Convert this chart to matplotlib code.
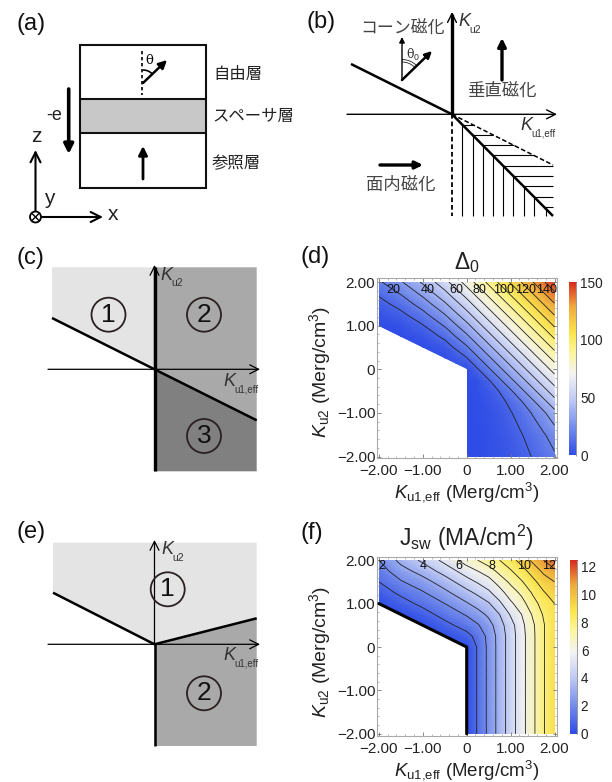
import numpy as np
import matplotlib
matplotlib.use("Agg")
import matplotlib.pyplot as plt
from matplotlib.colors import LinearSegmentedColormap
from matplotlib.patches import Polygon, Circle, Arc, Rectangle

plt.rcParams["font.family"] = ["Liberation Sans", "Noto Sans CJK JP", "DejaVu Sans"]
plt.rcParams["mathtext.fontset"] = "custom"
plt.rcParams["mathtext.rm"] = "Liberation Sans"
plt.rcParams["mathtext.it"] = "Liberation Sans:italic"
plt.rcParams["mathtext.bf"] = "Liberation Sans:bold"

W, H = 612, 782

# heatmap grid (Merg/cm3), finer where the contours bend
GRID_X = [-2, -1.5, -1, -0.5, 0, 0.25, 0.5, 0.75, 1, 1.25, 1.5, 1.75, 2]
GRID_Y = [-2, -1.5, -1, -0.75, -0.5, -0.25, 0, 0.25, 0.5, 0.75, 1, 1.25, 1.5, 1.75, 2]

# Delta_0, rows go from y=-2 to y=2
DELTA = [
    [0, 0, 0, 0, 0, 0.3, 1.2, 2.6, 4.6, 7.2, 10.4, 14.2, 18.5],
    [0, 0, 0, 0, 0, 0.4, 1.5, 3.5, 6.2, 9.6, 13.9, 18.9, 24.7],
    [0, 0, 0, 0, 0, 0.6, 2.3, 5.2, 9.3, 14.5, 20.8, 28.3, 37],
    [0, 0, 0, 0, 0, 0.8, 3.1, 6.9, 12.3, 19.3, 27.8, 37, 46.3],
    [0, 0, 0, 0, 0, 1.2, 4.6, 10.4, 18.5, 27.8, 37, 46.3, 55.5],
    [0, 0, 0, 0, 0, 2.3, 9.3, 18.5, 27.8, 37, 46.3, 55.5, 64.8],
    [0, 0, 0, 0, 0, 9.3, 18.5, 27.8, 37, 46.3, 55.5, 64.8, 74],
    [0, 0, 0, 0, 9.3, 18.5, 27.8, 37, 46.3, 55.5, 64.8, 74, 83.3],
    [0, 0, 0, 4.6, 18.5, 27.8, 37, 46.3, 55.5, 64.8, 74, 83.3, 92.5],
    [0, 0, 3.1, 12.3, 27.8, 37, 46.3, 55.5, 64.8, 74, 83.3, 92.5, 101.8],
    [0, 2.3, 9.3, 20.8, 37, 46.3, 55.5, 64.8, 74, 83.3, 92.5, 101.8, 111],
    [1.9, 7.4, 16.7, 29.6, 46.3, 55.5, 64.8, 74, 83.3, 92.5, 101.8, 111, 120.3],
    [6.2, 13.9, 24.7, 38.5, 55.5, 64.8, 74, 83.3, 92.5, 101.8, 111, 120.3, 129.5],
    [11.9, 21.1, 33, 47.6, 64.8, 74, 83.3, 92.5, 101.8, 111, 120.3, 129.5, 138.8],
    [18.5, 28.9, 41.6, 56.7, 74, 83.3, 92.5, 101.8, 111, 120.3, 129.5, 138.8, 148],
]
DELTA_LEVELS = [10, 20, 30, 40, 50, 60, 70, 80, 90, 100, 110, 120, 130, 140]
DELTA_TICKS = [0, 50, 100, 150]
DELTA_LABELS = ["20", "40", "60", "80", "100", "120", "140"]
DELTA_LABEL_X = [-1.67, -0.9, -0.23, 0.3, 0.83, 1.34, 1.83]

# J_sw, same grid
JSW = [
    [0, 0, 0, 0, 0, 1.1, 2.25, 3.4, 4.5, 5.6, 6.75, 7.9, 9],
    [0, 0, 0, 0, 0, 1.1, 2.25, 3.4, 4.5, 5.6, 6.75, 7.9, 9],
    [0, 0, 0, 0, 0, 1.1, 2.25, 3.4, 4.5, 5.6, 6.75, 7.9, 9],
    [0, 0, 0, 0, 0, 1.1, 2.25, 3.4, 4.5, 5.6, 6.75, 7.9, 9],
    [0, 0, 0, 0, 0, 1.1, 2.25, 3.4, 4.5, 5.6, 6.75, 7.9, 9],
    [0, 0, 0, 0, 0, 1.1, 2.25, 3.4, 4.5, 5.6, 6.75, 7.9, 9],
    [0, 0, 0, 0, 0, 1.1, 2.25, 3.4, 4.5, 5.6, 6.75, 7.9, 9],
    [0, 0, 0, 0, 0.7, 1.3, 2.3, 3.4, 4.5, 5.6, 6.75, 7.9, 9],
    [0, 0, 0, 0.7, 1.4, 1.9, 2.6, 3.6, 4.6, 5.7, 6.8, 7.9, 8.95],
    [0, 0, 0.6, 1.35, 2.1, 2.6, 3.2, 4.0, 5.1, 6.0, 7.1, 8.1, 8.97],
    [0, 0.6, 1.25, 2.0, 2.9, 3.4, 3.9, 4.8, 5.8, 6.6, 7.6, 8.4, 9.0],
    [0.5, 1.2, 1.9, 2.75, 3.7, 4.2, 4.8, 5.6, 6.5, 7.2, 8.1, 8.9, 9.5],
    [1.0, 1.9, 2.6, 3.5, 4.6, 5.1, 5.6, 6.4, 7.2, 7.9, 8.7, 9.5, 10.0],
    [1.5, 2.6, 3.4, 4.4, 5.5, 6.0, 6.5, 7.3, 7.9, 8.6, 9.4, 10.2, 10.8],
    [2.0, 3.3, 4.2, 5.3, 6.5, 7.0, 7.6, 8.0, 8.6, 9.4, 10.2, 11.0, 11.8],
]
JSW_LEVELS = [1, 2, 3, 4, 5, 6, 7, 8, 9, 10, 11]
JSW_TICKS = [0, 2, 4, 6, 8, 10, 12]
JSW_LABELS = ["2", "4", "6", "8", "10", "12"]
JSW_LABEL_X = [-1.94, -1.0, -0.17, 0.58, 1.3, 1.87]

# edge of the valid region
EDGE_X = [-2, 0, 0]
EDGE_Y = [1, 0, -2]

AXIS_TICKS = [-2, -1, 0, 1, 2]
AXIS_TICK_LABELS = ["\u22122.00", "\u22121.00", "0", "1.00", "2.00"]

CMAP_COLORS = ["#2f4de6", "#6f88ea", "#c3cdf4", "#f3f3f3", "#fdf49a", "#fbe84f", "#eeaa3c", "#d8291f"]
CMAP_STOPS = [0.0, 0.15, 0.33, 0.47, 0.6, 0.7, 0.86, 1.0]

# schematic panels, figure pixels
A_BOX = [80, 44.7, 126, 143]
A_SPACER = [99.3, 133.3]
A_LAYERS = ["自由層", "スペーサ層", "参照層"]
A_LAYER_X = [213, 212, 212]
A_LAYER_Y = [75, 117, 163]

C_REGIONS = [
    ([(52, 267.3), (154.5, 267.3), (154.5, 369.3), (52, 318)], "#e4e4e4"),
    ([(154.5, 267.3), (256.7, 267.3), (256.7, 420.3), (154.5, 369.3)], "#a9a9a9"),
    ([(154.5, 369.3), (256.7, 420.3), (256.7, 471.3), (154.5, 471.3)], "#808080"),
]
E_REGIONS = [
    ([(53, 542.7), (256.7, 542.7), (256.7, 618.3), (154.5, 644.3), (53, 592.7)], "#e4e4e4"),
    ([(154.5, 644.3), (256.7, 618.3), (256.7, 746), (154.5, 746)], "#a9a9a9"),
]

B_VHATCH = [462.3, 472.7, 482.7, 492.7, 503, 513.3, 524, 534.3, 545.7]
B_HHATCH = [124.7, 135, 145.3, 155.3, 165.7, 176, 186.3, 196.7, 207.3]

PANEL_LABELS = ["(a)", "(b)", "(c)", "(d)", "(e)", "(f)"]
PANEL_X = [16, 306, 16, 300, 16, 300]
PANEL_Y = [24, 22, 258, 257, 532, 533]

cmap = LinearSegmentedColormap.from_list("temp", list(zip(CMAP_STOPS, CMAP_COLORS)))

fig = plt.figure(figsize=(W / 100, H / 100), dpi=100)
bg = fig.add_axes([0, 0, 1, 1])
bg.set_xlim(0, W)
bg.set_ylim(H, 0)
bg.axis("off")


def line(x, y, lw=1.0, color="black", ls="-", z=3):
    bg.plot(x, y, color=color, lw=lw, ls=ls, zorder=z, solid_capstyle="butt")


def arrow(x0, y0, x1, y1, lw=1.5, style="-|>", scale=10, color="black"):
    bg.annotate("", xy=(x1, y1), xytext=(x0, y0),
                arrowprops=dict(arrowstyle=style, lw=lw, color=color, mutation_scale=scale,
                                shrinkA=0, shrinkB=0), zorder=5)


def k_label(x, y, sub, sub_size):
    # K and its subscript drawn apart, the subscript is much smaller than the K
    bg.text(x, y, "K", fontsize=13, style="italic", color="#333333", va="center", zorder=6)
    bg.text(x + 11, y + 8, sub, fontsize=sub_size, color="#333333", va="center", zorder=6)


def num_circle(x, y, s):
    bg.add_patch(Circle((x, y), 17, fc="none", ec="#2a2020", lw=1.3, zorder=6))
    bg.text(x, y, s, fontsize=19, ha="center", va="center", color="#111111", zorder=6)


for s, x, y in zip(PANEL_LABELS, PANEL_X, PANEL_Y):
    bg.text(x, y, s, fontsize=17, va="center", color="#111111")

# (a) layer stack
bg.add_patch(Rectangle((A_BOX[0], A_SPACER[0]), A_BOX[2], A_SPACER[1] - A_SPACER[0], fc="#c8c8c8", ec="none"))
bg.add_patch(Rectangle((A_BOX[0], A_BOX[1]), A_BOX[2], A_BOX[3], fc="none", ec="#111111", lw=1.5))
line([A_BOX[0], A_BOX[0] + A_BOX[2]], [A_SPACER[0]] * 2, lw=1.5, color="#111111")
line([A_BOX[0], A_BOX[0] + A_BOX[2]], [A_SPACER[1]] * 2, lw=1.5, color="#111111")
for s, x, y in zip(A_LAYERS, A_LAYER_X, A_LAYER_Y):
    bg.text(x, y, s, fontsize=11.8, va="center", color="#222222")
line([142, 142], [51, 95], lw=1.2, ls=(0, (2, 1.6)))
arrow(143, 83, 167, 60, lw=1.8, scale=12)
bg.add_patch(Arc((143, 83), 26, 26, theta1=-90, theta2=-45, color="black", lw=1.2, zorder=4))
bg.text(149, 61, "θ", fontsize=9.5, ha="center", va="center", family="DejaVu Serif")
arrow(143, 179, 143, 146, lw=2, scale=13)
arrow(68.7, 89, 68.7, 154, lw=2.6, scale=14)
bg.text(54, 116, "-e", fontsize=13, ha="center", va="center", color="#222222")
arrow(35.5, 212, 35.5, 150, lw=1.5, style="->", scale=18)
arrow(41, 217, 103, 217, lw=1.5, style="->", scale=18)
bg.add_patch(Circle((35.5, 217), 5.5, fc="white", ec="black", lw=1.3, zorder=6))
line([32, 39], [213.5, 220.5], lw=1, z=7)
line([32, 39], [220.5, 213.5], lw=1, z=7)
bg.text(36, 136, "z", fontsize=15, ha="center", va="center", color="#222222")
bg.text(49, 199, "y", fontsize=15, ha="center", va="center", color="#222222")
bg.text(113, 215, "x", fontsize=15, ha="center", va="center", color="#222222")

# (b) phase sketch
ox, oy = 452, 114.3
arrow(ox, oy, ox, 12, lw=1.0, style="->", scale=16)
line([ox, ox], [oy, 14], lw=2.4)
arrow(347, oy, 557, oy, lw=1.0, style="->", scale=16)
line([351, ox], [64, oy], lw=1.8)
line([ox, 553], [oy, 216], lw=1.8)
line([ox, ox], [oy, 216], lw=1.3, ls=(0, (2.6, 1.6)))
line([ox, 553], [oy, 165], lw=1.1, ls=(0, (3, 1.6)))
for xh in B_VHATCH:
    line([xh, xh], [oy + (xh - ox) * 1.007, 216], lw=0.8, z=2)
for yh in B_HHATCH:
    x_solid = ox + (yh - oy) / 1.007
    x_dash = min(ox + (yh - oy) / 0.5, 553)
    line([x_solid, x_dash], [yh, yh], lw=0.8, z=2)
arrow(402, 80, 402, 37, lw=1.0, scale=8)
arrow(402, 80, 432, 51, lw=1.8, scale=10)
bg.add_patch(Arc((402, 80), 36, 36, theta1=-90, theta2=-45, color="#222222", lw=0.6))
bg.add_patch(Arc((402, 80), 41, 41, theta1=-90, theta2=-45, color="#222222", lw=0.6))
bg.text(413, 55, "θ$_0$", fontsize=9, ha="center", va="center", color="#333333", family="DejaVu Serif")
bg.text(402, 28, "コーン磁化", fontsize=12.2, ha="center", va="center", color="#444444")
k_label(458, 22, "u2", 7.5)
bg.text(502, 91, "垂直磁化", fontsize=12.5, ha="center", va="center", color="#444444")
arrow(502, 80, 502, 38, lw=2.4, scale=12)
k_label(520, 125, "u1,eff", 7)
arrow(380, 165, 423, 165, lw=2.4, scale=11)
bg.text(401, 185, "面内磁化", fontsize=12.5, ha="center", va="center", color="#444444")

# (c)
for pts, col in C_REGIONS:
    bg.add_patch(Polygon(pts, fc=col, ec="none"))
arrow(48, 369.3, 260, 369.3, lw=0.9, style="->", scale=16)
arrow(154.5, 369.3, 154.5, 265, lw=0.9, style="->", scale=16)
line([154.5, 154.5], [267, 471.3], lw=2.4)
line([52, 154.5, 256.7], [318, 369.3, 420.3], lw=1.8)
num_circle(108.5, 314.7, "1")
num_circle(204, 314.7, "2")
num_circle(204, 436, "3")
k_label(160, 275, "u2", 7.5)
k_label(223, 381, "u1,eff", 7)

# (e)
for pts, col in E_REGIONS:
    bg.add_patch(Polygon(pts, fc=col, ec="none"))
arrow(48, 644.3, 260, 644.3, lw=0.9, style="->", scale=16)
arrow(154.5, 644.3, 154.5, 540, lw=0.9, style="->", scale=16)
line([53, 154.5, 256.7], [592.7, 644.3, 618.3], lw=1.8)
line([155, 155], [644.3, 746], lw=1.8)
num_circle(167.7, 589.3, "1")
num_circle(204, 693.3, "2")
k_label(161, 550, "u2", 7.5)
k_label(223, 656, "u1,eff", 7)


def heat_panel(frame, ylim, zvals, levels, vmax, title, title_y, title_size, ticks, cbar_box, labels, label_x,
               label_y, edge_line, xlabel_y, ylabel_c):
    left, top, right, bottom = frame
    ax = fig.add_axes([left / W, 1 - bottom / H, (right - left) / W, (bottom - top) / H])
    ax.set_xlim(-2.05, 2.05)
    ax.set_ylim(*ylim)
    z = np.array(zvals, dtype=float)
    mesh = ax.pcolormesh(GRID_X, GRID_Y, z, shading="gouraud", cmap=cmap, vmin=0, vmax=vmax, zorder=1)
    cs = ax.contour(GRID_X, GRID_Y, z, levels=levels, colors="#222222", linewidths=0.6, zorder=2)
    clip_x = EDGE_X + [2, 2, -2]
    clip_y = EDGE_Y + [-2, 2, 2]
    clip = Polygon(list(zip(clip_x, clip_y)), transform=ax.transData, fc="none", ec="none")
    ax.add_patch(clip)
    mesh.set_clip_path(clip)
    cs.set_clip_path(clip)
    if edge_line:
        ax.plot(EDGE_X, EDGE_Y, color="black", lw=2.2, zorder=3, solid_capstyle="round")
    for s, x in zip(labels, label_x):
        ax.text(x, label_y, s, fontsize=9, ha="center", va="center", color="#111111", zorder=4)
    ax.set_xticks(AXIS_TICKS, AXIS_TICK_LABELS)
    ax.set_yticks(AXIS_TICKS, AXIS_TICK_LABELS)
    ax.set_xticks(np.arange(-2, 2.01, 0.2), minor=True)
    ax.set_yticks(np.arange(-2, 2.01, 0.2), minor=True)
    ax.tick_params(which="major", direction="in", length=3, width=0.6, color="#777777",
                   labelsize=11, labelcolor="#222222", top=True, right=True)
    ax.tick_params(axis="x", which="major", pad=4)
    ax.tick_params(axis="y", which="major", pad=1)
    ax.tick_params(which="minor", direction="in", length=1.5, width=0.5, color="#999999", top=True, right=True)
    for sp in ax.spines.values():
        sp.set_color("#aaaaaa")
        sp.set_linewidth(0.8)
    bg.text((left + right) / 2, title_y, title, fontsize=title_size, ha="center", va="center", color="#222222")
    bg.text((left + right) / 2, xlabel_y, "$K_{\\mathrm{u1{,}eff}}$ (Merg/cm$^3$)", fontsize=13.5,
            ha="center", va="center", color="#222222")
    bg.text(320, ylabel_c, "$K_{\\mathrm{u2}}$ (Merg/cm$^3$)", fontsize=14, rotation=90,
            ha="center", va="center", color="#222222")
    cl, ct, cr, cb = cbar_box
    cax = fig.add_axes([cl / W, 1 - cb / H, (cr - cl) / W, (cb - ct) / H])
    bar = fig.colorbar(mesh, cax=cax, ticks=ticks)
    bar.outline.set_visible(False)
    cax.tick_params(length=0, labelsize=9.8, labelcolor="#222222", pad=2)
    line([cr - 1.5, cr - 1.5], [ct, cb], lw=0.7, color="#999999", z=8)
    cax.set_zorder(0)
    bg.set_zorder(1)
    ax.set_zorder(2)
    return ax


heat_panel((376.7, 277.7, 556.7, 458.3), (-2.04, 2.1), DELTA, DELTA_LEVELS, 150, "$\\Delta_0$", 263, 16.5,
           DELTA_TICKS, (569.3, 282, 577.3, 455.5), DELTA_LABELS, DELTA_LABEL_X, 1.82, False, 492, 372)
heat_panel((376.7, 556.7, 556.7, 736), (-2.05, 2.08), JSW, JSW_LEVELS, 12.5, "J$_{\\mathrm{sw}}$ (MA/cm$^2$)", 538, 16.5,
           JSW_TICKS, (570, 560, 578, 733.5), JSW_LABELS, JSW_LABEL_X, 1.86, True, 770, 652)

fig.savefig("out.png", dpi=100)
